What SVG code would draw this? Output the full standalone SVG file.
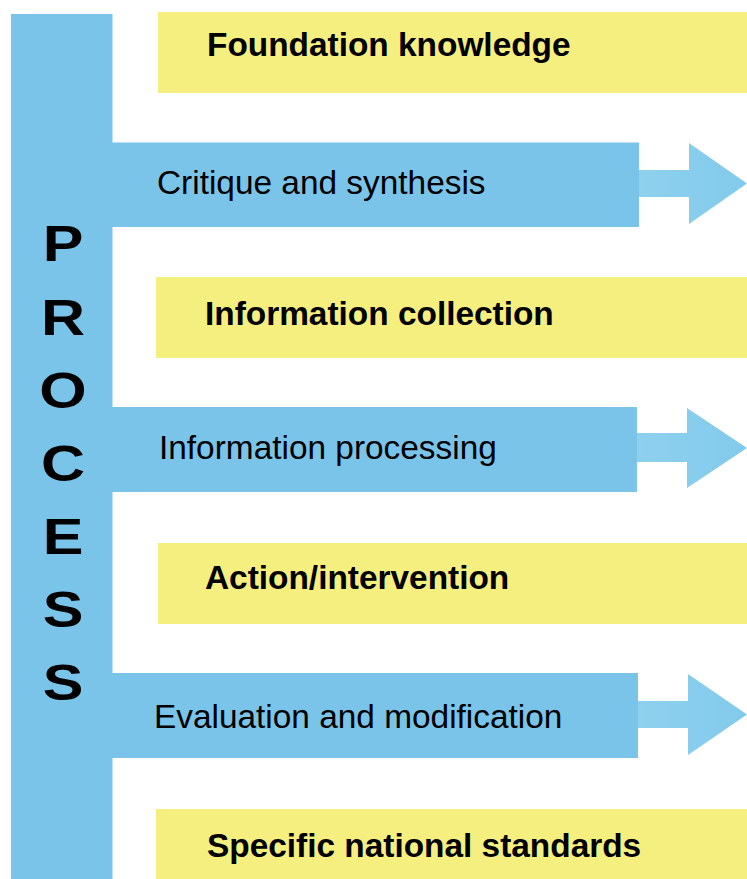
<svg xmlns="http://www.w3.org/2000/svg" width="747" height="879" viewBox="0 0 747 879">
<style>
.blue{fill:#7AC4E9}
.yellow{fill:#F5EF80}
.arr{fill:url(#ag)}
.bt{font-family:"Liberation Sans",Arial,sans-serif;font-weight:bold;font-size:33.4px;fill:#000}
.rt{font-family:"Liberation Sans",Arial,sans-serif;font-size:33.4px;fill:#000}
.pt{font-family:"Liberation Sans",Arial,sans-serif;font-weight:bold;font-size:50px;fill:#000;text-anchor:middle}
</style>
<defs>
<linearGradient id="ag" x1="0" y1="0" x2="1" y2="0">
<stop offset="0" stop-color="#8ED0EE"/>
<stop offset="1" stop-color="#82CAEB"/>
</linearGradient>
</defs>
<rect width="747" height="879" fill="#fff"/>
<g id="process">
<rect class="blue" x="11" y="14" width="101.5" height="865"/>
<g transform="translate(63 0) scale(1.22 1)">
<text class="pt" x="0" y="261">P</text>
<text class="pt" x="0" y="335">R</text>
<text class="pt" x="0" y="408">O</text>
<text class="pt" x="0" y="481">C</text>
<text class="pt" x="0" y="554">E</text>
<text class="pt" x="0" y="627">S</text>
<text class="pt" x="0" y="700">S</text>
</g>
</g>
<g id="foundation">
<rect class="yellow" x="158" y="12" width="589" height="81"/>
<text class="bt" x="207" y="56">Foundation knowledge</text>
</g>
<g id="critique">
<rect class="blue" x="112" y="142.5" width="527" height="84.5"/>
<text class="rt" x="157" y="194">Critique and synthesis</text>
</g>
<g id="collection">
<rect class="yellow" x="156" y="277" width="591" height="81"/>
<text class="bt" x="205" y="325">Information collection</text>
</g>
<g id="processing">
<rect class="blue" x="112" y="407" width="525" height="85"/>
<text class="rt" x="159" y="459">Information processing</text>
</g>
<g id="action">
<rect class="yellow" x="158" y="543" width="589" height="81"/>
<text class="bt" x="205" y="589">Action/intervention</text>
</g>
<g id="evaluation">
<rect class="blue" x="112" y="673" width="526" height="85"/>
<text class="rt" x="154" y="728">Evaluation and modification</text>
</g>
<g id="standards">
<rect class="yellow" x="156" y="809" width="591" height="70"/>
<text class="bt" x="207" y="857">Specific national standards</text>
</g>
<g id="connectors">
<polygon class="arr" points="639,170 689,170 689,143 747,183.5 689,224 689,197 639,197"/>
<polygon class="arr" points="637,433 687,433 687,408 747,448 687,488 687,462 637,462"/>
<polygon class="arr" points="638,701 688,701 688,674 747,714.5 688,755 688,728 638,728"/>
</g>
</svg>
